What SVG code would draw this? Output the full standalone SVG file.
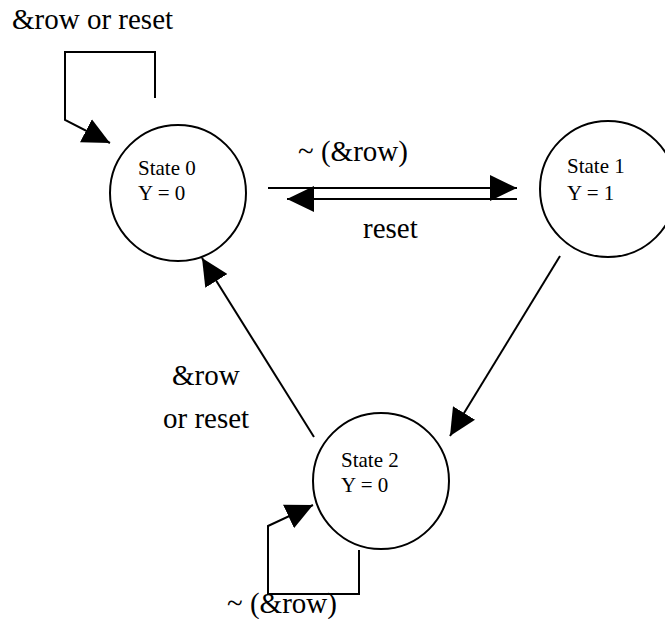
<svg xmlns="http://www.w3.org/2000/svg" width="665" height="619" viewBox="0 0 665 619">
<style>
  .node { fill: #ffffff; stroke: #000000; stroke-width: 2; }
  .edge { fill: none; stroke: #000000; stroke-width: 2; }
  .st { font-family: "Liberation Serif", "Times New Roman", serif; font-size: 21px; fill: #000000; }
  .lbl { font-family: "Liberation Serif", "Times New Roman", serif; font-size: 29px; fill: #000000; }
</style>
<defs>
  <marker id="arrow" markerUnits="userSpaceOnUse" markerWidth="27" markerHeight="26" viewBox="0 0 27 26" refX="27" refY="13" orient="auto">
    <path d="M0,0 L27,13 L0,26 Z" fill="#000000"/>
  </marker>
</defs>
<rect width="665" height="619" fill="#ffffff"/>
<g id="connectors">
  <path class="edge" d="M155,98 L155,52 L65,52 L65,120 L110,143" marker-end="url(#arrow)"/>
  <line class="edge" x1="268" y1="188" x2="517" y2="188" marker-end="url(#arrow)"/>
  <line class="edge" x1="517" y1="199" x2="287" y2="199" marker-end="url(#arrow)"/>
  <line class="edge" x1="560" y1="256" x2="450" y2="436" marker-end="url(#arrow)"/>
  <line class="edge" x1="314" y1="437" x2="202" y2="258" marker-end="url(#arrow)"/>
  <path class="edge" d="M359,550 L359,594 L268,594 L268,526 L313,505" marker-end="url(#arrow)"/>
  <text class="lbl" x="12" y="29">&amp;row or reset</text>
  <text class="lbl" x="298" y="161">~ (&amp;row)</text>
  <text class="lbl" x="363" y="238">reset</text>
  <text class="lbl" x="172" y="385">&amp;row</text>
  <text class="lbl" x="163" y="428">or reset</text>
  <text class="lbl" x="227" y="613">~ (&amp;row)</text>
</g>
<g id="state0">
  <circle class="node" cx="178" cy="193" r="68"/>
  <text class="st" x="138" y="175">State 0</text>
  <text class="st" x="138" y="200">Y = 0</text>
</g>
<g id="state1">
  <circle class="node" cx="608" cy="189" r="68"/>
  <text class="st" x="567" y="173">State 1</text>
  <text class="st" x="567" y="200">Y = 1</text>
</g>
<g id="state2">
  <circle class="node" cx="381" cy="481" r="68"/>
  <text class="st" x="341" y="467">State 2</text>
  <text class="st" x="341" y="492">Y = 0</text>
</g>
</svg>
